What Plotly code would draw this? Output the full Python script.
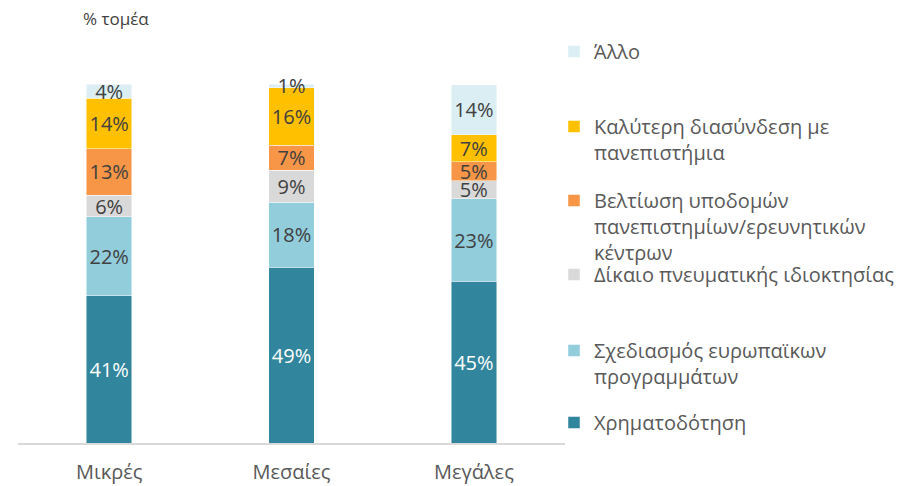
import plotly.graph_objects as go

categories = ["Μικρές", "Μεσαίες", "Μεγάλες"]

series_names = [
    "Χρηματοδότηση",
    "Σχεδιασμός ευρωπαϊκων<br>προγραμμάτων",
    "Δίκαιο πνευματικής ιδιοκτησίας",
    "Βελτίωση υποδομών<br>πανεπιστημίων/ερευνητικών<br>κέντρων",
    "Καλύτερη διασύνδεση με<br>πανεπιστήμια",
    "Άλλο",
]

chrimatodotisi = [41, 49, 45]
schediasmos = [22, 18, 23]
dikaio = [6, 9, 5]
veltiosi = [13, 7, 5.4]
kalyteri = [14, 16, 7.4]
allo = [4, 1, 14]

series_values = [chrimatodotisi, schediasmos, dikaio, veltiosi, kalyteri, allo]
colors = ["#31859C", "#92CDDC", "#D9D9D9", "#F79646", "#FFC000", "#DAEEF3"]
text_colors = ["#FFFFFF", "#404040", "#404040", "#404040", "#404040", "#404040"]

W, H = 902, 486
L, R, T, B = 18, 337, 84, 43
legend_centres = [424, 352, 276, 202, 128, 53]

fig = go.Figure()
for i, (name, vals) in enumerate(zip(series_names, series_values)):
    lg = "legend" if i == 0 else f"legend{i+1}"
    fig.add_trace(go.Bar(
        x=categories, y=vals, name=name,
        marker=dict(color=colors[i], line=dict(color="rgba(255,255,255,0.6)", width=0.8)),
        texttemplate="%{y:.0f}%", textposition="inside", insidetextanchor="middle",
        textangle=0,
        textfont=dict(color=text_colors[i], size=20, family="Open Sans"),
        constraintext="none", cliponaxis=False,
        legend=lg, hoverinfo="skip",
    ))

layout_legends = {}
for i in range(6):
    key = "legend" if i == 0 else f"legend{i+1}"
    layout_legends[key] = dict(
        x=554 / W, xref="container", y=1 - (legend_centres[i] - 21) / H, yref="container",
        xanchor="left", yanchor="top", valign="top",
        font=dict(size=20, color="#595959", family="Open Sans"),
        bgcolor="rgba(0,0,0,0)", itemwidth=30, tracegroupgap=0,
    )

pw, ph = W - L - R, H - T - B
fig.update_layout(
    barmode="stack",
    bargap=0.75,
    width=W, height=H,
    margin=dict(l=L, r=R, t=T, b=B, autoexpand=False),
    plot_bgcolor="white", paper_bgcolor="white",
    showlegend=True,
    xaxis=dict(showline=True, linecolor="#D9D9D9", linewidth=2, ticks="",
               ticklabelstandoff=10,
               tickfont=dict(size=20, color="#595959", family="Open Sans"),
               showgrid=False, zeroline=False),
    yaxis=dict(range=[0, 100], visible=False, showgrid=False, zeroline=False),
    annotations=[dict(text="% τομέα", x=(81 - L) / pw, y=1 + (T - 18) / ph,
                      xref="paper", yref="paper", showarrow=False,
                      font=dict(size=17, color="#404040", family="Open Sans"),
                      xanchor="left", yanchor="middle")],
    **layout_legends,
)

fig.write_html("out.html", config={"displayModeBar": False},
               post_script="document.body.style.margin='0';")
